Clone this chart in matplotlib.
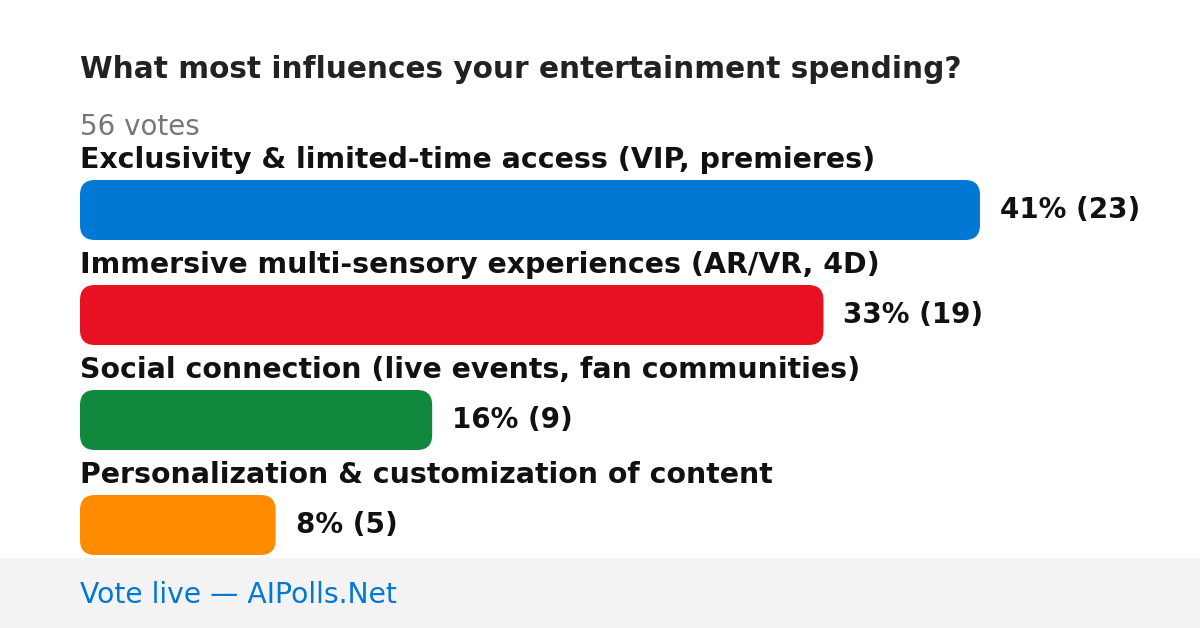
import matplotlib.pyplot as plt
from matplotlib.patches import FancyBboxPatch, Rectangle

plt.rcParams['font.family'] = ['DejaVu Sans']

# Poll data
title = "What most influences your entertainment spending?"
total_votes = 56
options = [
    "Exclusivity & limited-time access (VIP, premieres)",
    "Immersive multi-sensory experiences (AR/VR, 4D)",
    "Social connection (live events, fan communities)",
    "Personalization & customization of content",
]
votes = [23, 19, 9, 5]
percents = [41, 33, 16, 8]
colors = ["#0078D4", "#E81123", "#10893E", "#FF8C00"]
footer = "Vote live \u2014 AIPolls.Net"

W, H = 1200, 628
fig = plt.figure(figsize=(W / 100, H / 100), dpi=100)
ax = fig.add_axes([0, 0, 1, 1])
ax.set_xlim(0, W)
ax.set_ylim(H, 0)
ax.axis("off")

left = 80
max_len = 900          # pixel length of the longest bar
bar_h = 60
row_gap = 105
first_top = 180

ax.text(left, 78, title, fontsize=21.3, fontweight="bold", color="#222222", va="baseline")
ax.text(left, 135, f"{total_votes} votes", fontsize=20, color="#777777", va="baseline")

for i, (name, v, p, c) in enumerate(zip(options, votes, percents, colors)):
    top = first_top + i * row_gap
    length = v / max(votes) * max_len
    ax.text(left, top - 12, name, fontsize=20.4, fontweight="bold", color="#111111", va="baseline")
    bar = FancyBboxPatch((left, top), length, bar_h,
                         boxstyle="round,pad=0,rounding_size=15",
                         facecolor=c, edgecolor="none")
    ax.add_patch(bar)
    ax.text(left + length + 20, top + bar_h / 2, f"{p}% ({v})", fontsize=20,
            fontweight="bold", color="#111111", va="center")

ax.add_patch(Rectangle((0, 558), W, H - 558, facecolor="#F3F3F3", edgecolor="none"))
ax.text(left, 603, footer, fontsize=20.3, color="#0078D4", va="baseline")

fig.savefig("out.png", dpi=100)
